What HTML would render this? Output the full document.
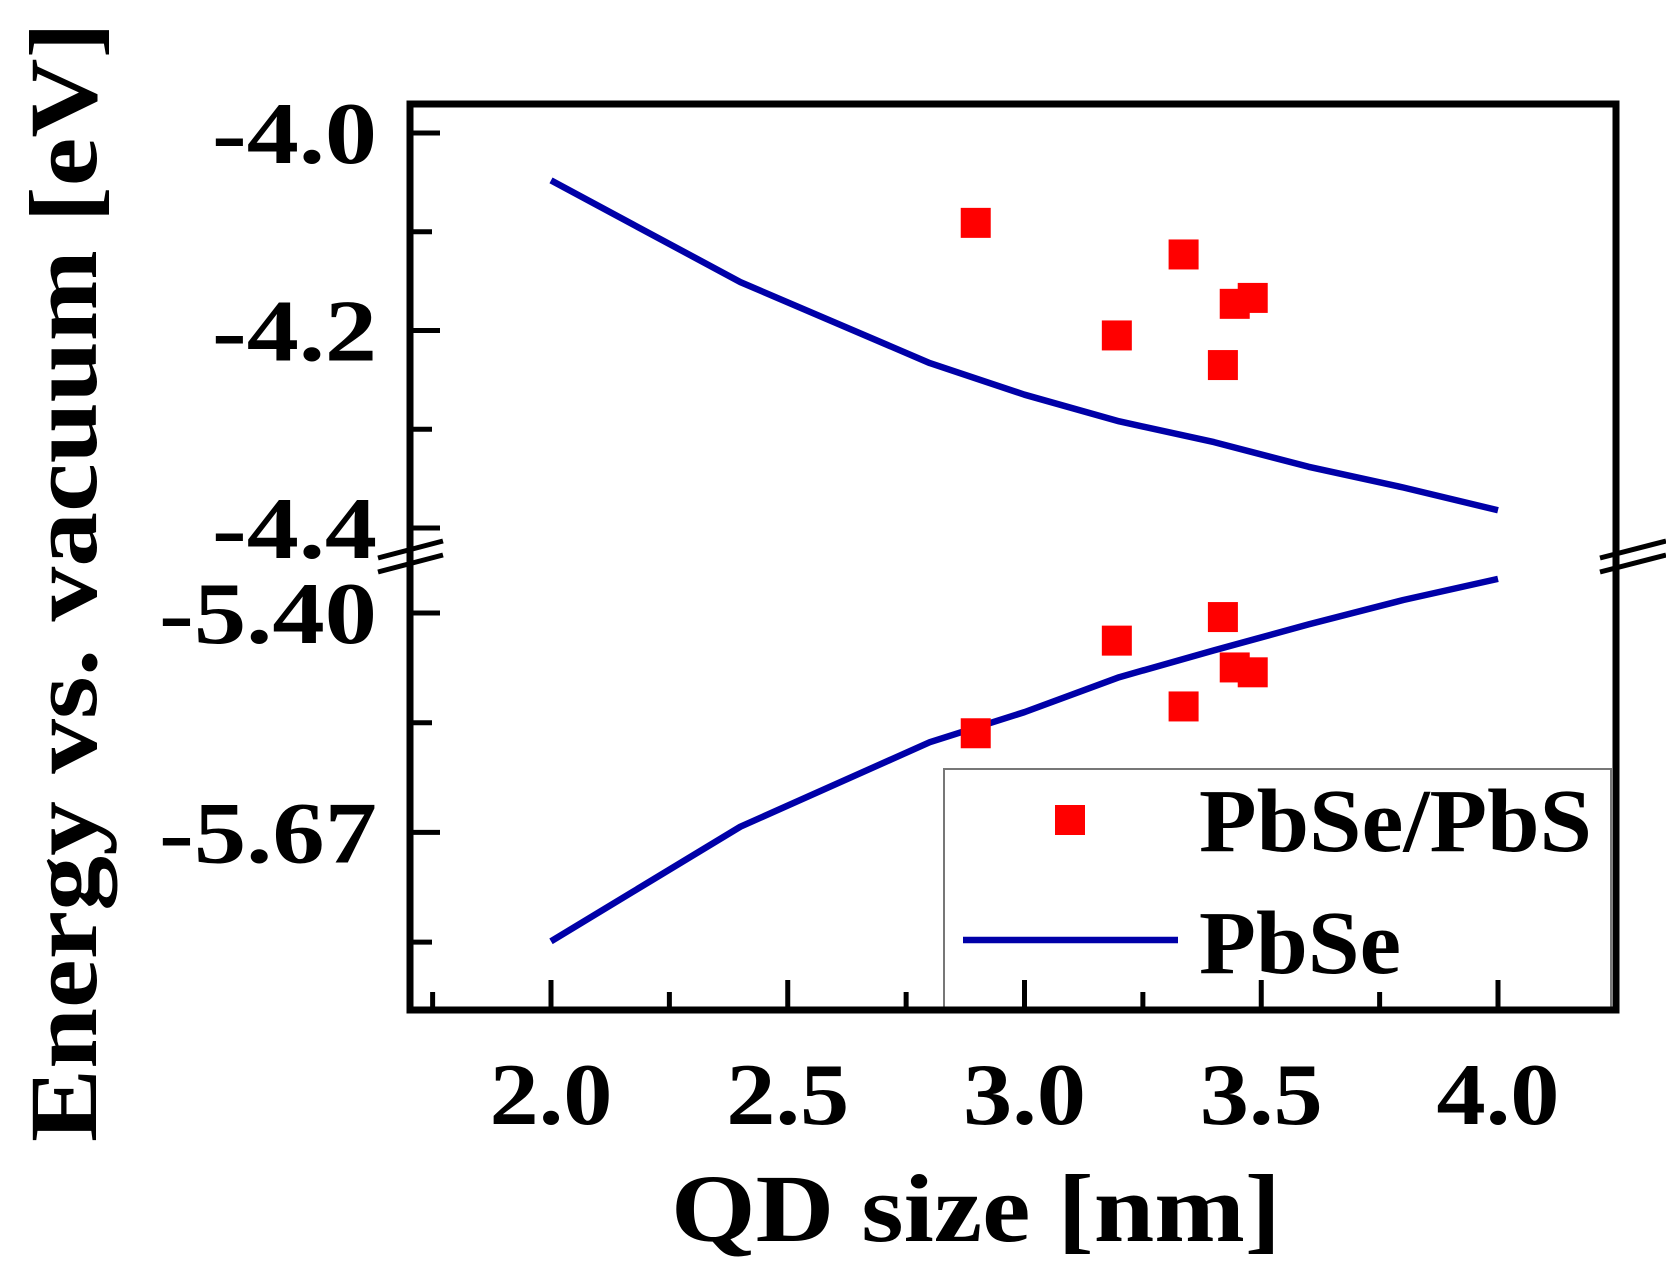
<!DOCTYPE html>
<html><head><meta charset="utf-8"><style>
html,body{margin:0;padding:0;background:#fff;}
svg{display:block;}
text{font-family:"Liberation Serif",serif;font-weight:bold;fill:#000;}
</style></head><body>
<svg id="chart" width="1666" height="1283" viewBox="0 0 1666 1283" xmlns="http://www.w3.org/2000/svg">
<g id="plot"></g>
</svg>
<script>
const sizesLine = [2.0, 2.4, 2.8, 3.0, 3.2, 3.4, 3.6, 3.8, 4.0];
const upperLine = [-4.048, -4.151, -4.233, -4.265, -4.292, -4.313, -4.338, -4.359, -4.382];
const lowerLine = [-5.804, -5.663, -5.559, -5.522, -5.479, -5.446, -5.414, -5.384, -5.358];
const sizesPts = [2.897, 3.336, 3.195, 3.444, 3.482, 3.419];
const upperPts = [-4.091, -4.123, -4.205, -4.173, -4.167, -4.235];
const lowerPts = [-5.548, -5.515, -5.434, -5.467, -5.473, -5.405];
const xTicks = [2.0, 2.5, 3.0, 3.5, 4.0];
const xTickLabels = ["2.0", "2.5", "3.0", "3.5", "4.0"];
const yUpperTicks = [-4.0, -4.2, -4.4];
const yUpperLabels = ["-4.0", "-4.2", "-4.4"];
const yLowerTicks = [-5.40, -5.67];
const yLowerLabels = ["-5.40", "-5.67"];

const NS = "http://www.w3.org/2000/svg";
const g = document.getElementById('plot');
const L = 410, R = 1616, T = 104, B = 1010;
function xs(v){ return 551 + (v - 2.0) * 473.5; }
function yU(v){ return 133 + (-4.0 - v) / 0.1 * 98.75; }
function yL(v){ return 613 + (-5.40 - v) / 0.135 * 109.7; }
function el(tag, attrs, parent){ const e = document.createElementNS(NS, tag); for (const k in attrs) e.setAttribute(k, attrs[k]); (parent||g).appendChild(e); return e; }

const lb = el('rect', {x:944, y:769, width:667, height:241, fill:'#fff', stroke:'#777', 'stroke-width':2});



for (let v = 1.75; v <= 4.26; v += 0.25) {
  const major = Math.abs((v*2) - Math.round(v*2)) < 1e-6;
  const t = el('line', {x1:xs(v), x2:xs(v), y1:B, y2:B-(major?30:18), stroke:'#000', 'stroke-width':5});
  
  
}
for (let v = -4.0; v >= -4.41; v -= 0.1) {
  const major = Math.abs(v*5 - Math.round(v*5)) < 1e-6;
  const t = el('line', {x1:L, x2:L+(major?30:22), y1:yU(v), y2:yU(v), stroke:'#000', 'stroke-width':5});
  
  
}
for (let i = 0; i < 4; i++) {
  const v = -5.40 - i*0.135;
  const major = (i === 0 || i === 2);
  const t = el('line', {x1:L, x2:L+(major?30:22), y1:yL(v), y2:yL(v), stroke:'#000', 'stroke-width':5});
  
  
}

const fr = el('rect', {x:L, y:T, width:R-L, height:B-T, fill:'none', stroke:'#000', 'stroke-width':7});



[[378,443],[1600,1666]].forEach(([a,b]) => {
  for (const dy of [0, 14]) {
    const bm = el('line', {x1:a, y1:558+dy, x2:b, y2:541+dy, stroke:'#000', 'stroke-width':5});
    
    
  }
});

const up = el('polyline', {points: sizesLine.map((s,i)=>xs(s)+','+yU(upperLine[i])).join(' '), fill:'none', stroke:'#0000a8', 'stroke-width':6.5, 'stroke-linejoin':'round'});


const lo = el('polyline', {points: sizesLine.map((s,i)=>xs(s)+','+yL(lowerLine[i])).join(' '), fill:'none', stroke:'#0000a8', 'stroke-width':6.5, 'stroke-linejoin':'round'});



sizesPts.forEach((s,i) => {
  const p1 = el('rect', {x:xs(s)-15, y:yU(upperPts[i])-15, width:30, height:30, fill:'#f00'});
  
  
  const p2 = el('rect', {x:xs(s)-15, y:yL(lowerPts[i])-15, width:30, height:30, fill:'#f00'});
  
  
});

xTicks.forEach((v,i) => {
  const t = el('text', {x:xs(v), y:1124, 'font-size':88, 'text-anchor':'middle', textLength:123, lengthAdjust:'spacingAndGlyphs'});
  t.textContent = xTickLabels[i];
  
  
});
yUpperTicks.forEach((v,i) => {
  const t = el('text', {x:212, y:yU(v)+30, 'font-size':88, textLength:165, lengthAdjust:'spacingAndGlyphs'});
  t.textContent = yUpperLabels[i];
  
  
});
yLowerTicks.forEach((v,i) => {
  const t = el('text', {x:159, y:yL(v)+30, 'font-size':88, textLength:218, lengthAdjust:'spacingAndGlyphs'});
  t.textContent = yLowerLabels[i];
  
  
});

const lm = el('rect', {x:1055, y:805, width:30, height:30, fill:'#f00'});


const lt1 = el('text', {x:1199, y:851, 'font-size':90, textLength:393, lengthAdjust:'spacingAndGlyphs'});
lt1.textContent = 'PbSe/PbS';


const ll = el('line', {x1:963, x2:1178, y1:940, y2:940, stroke:'#0000a8', 'stroke-width':6.5});


const lt2 = el('text', {x:1199, y:973, 'font-size':90, textLength:202, lengthAdjust:'spacingAndGlyphs'});
lt2.textContent = 'PbSe';



const xt = el('text', {x:976, y:1241, 'font-size':96, 'text-anchor':'middle', textLength:610, lengthAdjust:'spacingAndGlyphs'});
xt.textContent = 'QD size [nm]';


const yt = el('text', {x:0, y:0, 'font-size':96, 'text-anchor':'middle', textLength:1120, lengthAdjust:'spacingAndGlyphs', transform:'translate(96,582) rotate(-90)'});
yt.textContent = 'Energy vs. vacuum [eV]';


</script>
</body></html>
